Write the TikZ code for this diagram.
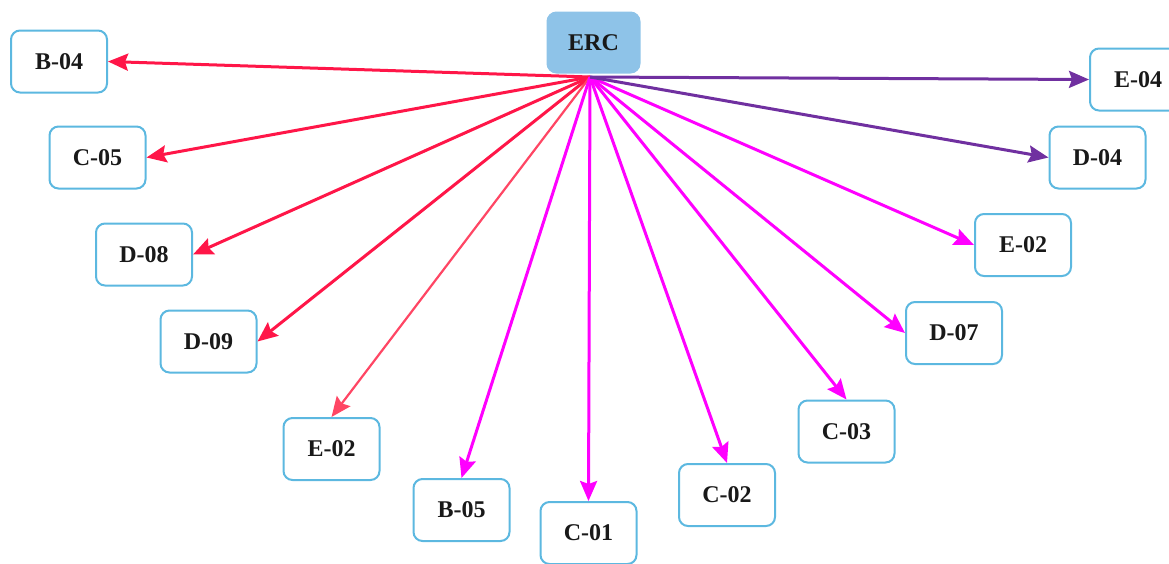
\documentclass[tikz,border=0pt]{standalone}
\usepackage{fontspec}
\setmainfont{Liberation Serif}
\usetikzlibrary{arrows.meta}
\definecolor{boxline}{RGB}{92,184,224}
\definecolor{ercfill}{RGB}{142,195,232}
\definecolor{linkred}{RGB}{255,22,72}
\definecolor{linkredlight}{RGB}{255,70,100}
\definecolor{linkmag}{RGB}{255,0,255}
\definecolor{linkpur}{RGB}{112,48,160}
\definecolor{labeltext}{RGB}{25,25,25}
\begin{document}
\begin{tikzpicture}[x=1pt,y=-1pt,
  leaf/.style={draw=boxline, line width=2pt, rounded corners=9pt, fill=white,
    minimum width=96pt, minimum height=62pt, inner sep=0pt,
    font=\fontsize{24}{28}\selectfont\bfseries, text=labeltext},
  hubbox/.style={leaf, draw=ercfill, fill=ercfill, minimum width=92pt, minimum height=60pt},
  link/.style={line width=3pt, -{Stealth[length=20pt,width=17pt,inset=3pt]}},
]
\useasboundingbox (0,0) rectangle (1169,563);
\clip (0,0) rectangle (1169,563);

% central node and the point where all links start
\node[hubbox] (erc) at (593.5,42.5) {ERC};
\coordinate (hub) at (590,77);

% left fan
\node[leaf] (b04) at (59,61.5) {B-04};
\node[leaf] (c05) at (97.5,157.5) {C-05};
\node[leaf] (d08) at (144,254.5) {D-08};
\node[leaf] (d09) at (208.5,341.5) {D-09};
\node[leaf] (e02a) at (331.5,449) {E-02};
% lower fan
\node[leaf] (b05) at (461.5,510) {B-05};
\node[leaf] (c01) at (588.5,533) {C-01};
\node[leaf] (c02) at (727,495) {C-02};
\node[leaf] (c03) at (846.5,431.5) {C-03};
% right fan
\node[leaf] (d07) at (954,333) {D-07};
\node[leaf] (e02b) at (1023,245) {E-02};
\node[leaf] (d04) at (1097.5,157.5) {D-04};
\node[leaf] (e04) at (1138,79.5) {E-04};

% links
\draw[link, linkred] (hub) -- (b04.east);
\draw[link, linkred] (hub) -- (c05.east);
\draw[link, linkred] (hub) -- (d08.east);
\draw[link, linkred] (hub) -- (d09.east);
\draw[link, linkredlight, line width=2.2pt] (hub) -- (e02a.north);
\draw[link, linkmag] (hub) -- (b05.north);
\draw[link, linkmag] (hub) -- (c01.north);
\draw[link, linkmag] (hub) -- (c02.north);
\draw[link, linkmag] (hub) -- (c03.north);
\draw[link, linkmag] (hub) -- (d07.west);
\draw[link, linkmag] (hub) -- (e02b.west);
\draw[link, linkpur] (hub) -- (d04.west);
\draw[link, linkpur] (hub) -- (e04.west);
\end{tikzpicture}
\end{document}
